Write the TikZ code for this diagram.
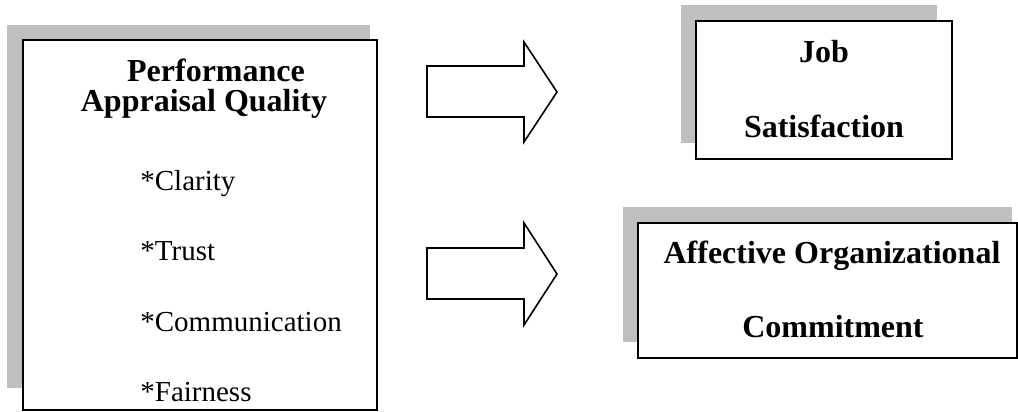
\documentclass[tikz,border=0pt]{standalone}
\usepackage{fontspec}
\setmainfont{Liberation Serif}
\begin{document}
\begin{tikzpicture}[x=0.5pt,y=-0.5pt,
  shadowbox/.style={fill=black!25,draw=none},
  mainbox/.style={fill=white,draw=black,line width=1pt},
  bigarrow/.style={draw=black,line width=0.8pt,fill=white,line join=miter},
  title/.style={font=\fontsize{16}{19}\selectfont\bfseries,align=center,inner sep=0pt,anchor=base},
  item/.style={font=\fontsize{14.5}{17}\selectfont,anchor=base west,inner sep=0pt}]
\useasboundingbox (0,0) rectangle (1018,412);
% left box
\fill[shadowbox] (7,25) rectangle (370,388);
\draw[mainbox] (23,40) rectangle (377,410);
\node[title] (pq1) at (216,81) {Performance};
\node[title] (pq2) at (204,111) {Appraisal Quality};
\node[item] (i1) at (140,190) {*Clarity};
\node[item] (i2) at (140,260) {*Trust};
\node[item] (i3) at (140,331) {*Communication};
\node[item] (i4) at (140,401) {*Fairness};
% arrows
\draw[bigarrow] (427,66) -- (524,66) -- (524,42) -- (557,92) -- (524,142) -- (524,117) -- (427,117) -- cycle;
\draw[bigarrow] (427,248) -- (524,248) -- (524,223) -- (557,274) -- (524,325) -- (524,299) -- (427,299) -- cycle;
% job satisfaction
\fill[shadowbox] (681,5) rectangle (937,143);
\draw[mainbox] (696,21) rectangle (952,159);
\node[title] (js1) at (824,62) {Job};
\node[title] (js2) at (824,137) {Satisfaction};
% affective commitment
\fill[shadowbox] (623,207) rectangle (1012,342);
\draw[mainbox] (638,223) rectangle (1017,358);
\node[title] (ac1) at (832,263) {Affective Organizational};
\node[title] (ac2) at (833,337) {Commitment};
\end{tikzpicture}
\end{document}
